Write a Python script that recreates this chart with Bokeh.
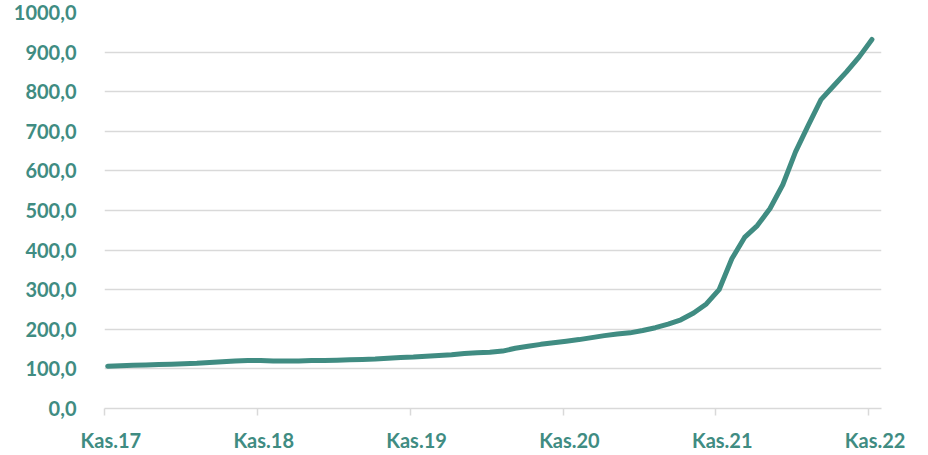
from bokeh.plotting import figure
from bokeh.models import Range1d, FixedTicker, LinearAxis
from bokeh.embed import file_html
from bokeh.resources import INLINE

# Monthly index values, Kas.17 .. Kas.22 (61 months)
months = list(range(61))
values = [107, 108, 109, 110, 111, 112, 113, 114, 116, 118,
          120, 121, 121, 120, 120, 120, 121, 121, 122, 123,
          124, 125, 127, 129, 130, 132, 134, 136, 139, 141,
          142, 145, 152, 157, 162, 166, 170, 174, 179, 184,
          188, 191, 197, 204, 213, 224, 241, 264, 300, 378,
          432, 462, 505, 565, 648, 715, 780, 815, 850, 888,
          932]
x_tick_months = [0, 12, 24, 36, 48, 60]
x_tick_labels = ["Kas.17", "Kas.18", "Kas.19", "Kas.20", "Kas.21", "Kas.22"]
y_ticks = [0, 100, 200, 300, 400, 500, 600, 700, 800, 900, 1000]
y_tick_labels = ["0,0", "100,0", "200,0", "300,0", "400,0", "500,0",
                 "600,0", "700,0", "800,0", "900,0", "1000,0"]

TEAL = "#408c82"
GRID = "#d9d9d9"
FONT = "Lato"

xs = [m + 0.25 for m in months]

p = figure(width=920, height=455, output_backend="svg", toolbar_location=None,
           x_range=Range1d(0, 61), y_range=Range1d(0, 1000),
           x_axis_location=None, y_axis_location="left",
           min_border_left=104, min_border_right=39, min_border_top=12,
           min_border_bottom=47)
p.outline_line_color = None
p.background_fill_color = "white"
p.border_fill_color = "white"

p.line(xs, values, line_color=TEAL, line_width=5, line_cap="round", line_join="round")

# y axis
ya = p.yaxis[0]
ya.ticker = FixedTicker(ticks=y_ticks)
ya.major_label_overrides = {t: l for t, l in zip(y_ticks, y_tick_labels)}
ya.axis_line_color = None
ya.major_tick_line_color = None
ya.minor_tick_line_color = None
ya.major_label_text_color = TEAL
ya.major_label_text_font = FONT
ya.major_label_text_font_style = "bold"
ya.major_label_text_font_size = "20px"
ya.major_label_standoff = 22

p.ygrid.ticker = FixedTicker(ticks=y_ticks[1:])
p.ygrid.grid_line_color = GRID
p.ygrid.grid_line_width = 1.5
p.xgrid.grid_line_color = None

# x axis: tick marks and line
tick_axis = LinearAxis(ticker=FixedTicker(ticks=x_tick_months),
                       major_label_overrides={t: "" for t in x_tick_months})
tick_axis.axis_line_color = GRID
tick_axis.axis_line_width = 1.5
tick_axis.major_tick_line_color = GRID
tick_axis.major_tick_line_width = 1.5
tick_axis.major_tick_out = 7
tick_axis.major_tick_in = 0
tick_axis.minor_tick_line_color = None
tick_axis.major_label_text_font_size = "1px"
tick_axis.major_label_standoff = 0
p.add_layout(tick_axis, "below")

# x axis: labels (centred slightly right of the tick marks, as in the source)
label_pos = [t + 0.5 for t in x_tick_months]
label_axis = LinearAxis(ticker=FixedTicker(ticks=label_pos),
                        major_label_overrides={t: l for t, l in zip(label_pos, x_tick_labels)})
label_axis.axis_line_color = None
label_axis.major_tick_line_color = None
label_axis.minor_tick_line_color = None
label_axis.major_label_text_color = TEAL
label_axis.major_label_text_font = FONT
label_axis.major_label_text_font_style = "bold"
label_axis.major_label_text_font_size = "20px"
label_axis.major_label_standoff = 6
p.add_layout(label_axis, "below")

open("out.html", "w").write(file_html(p, INLINE))
